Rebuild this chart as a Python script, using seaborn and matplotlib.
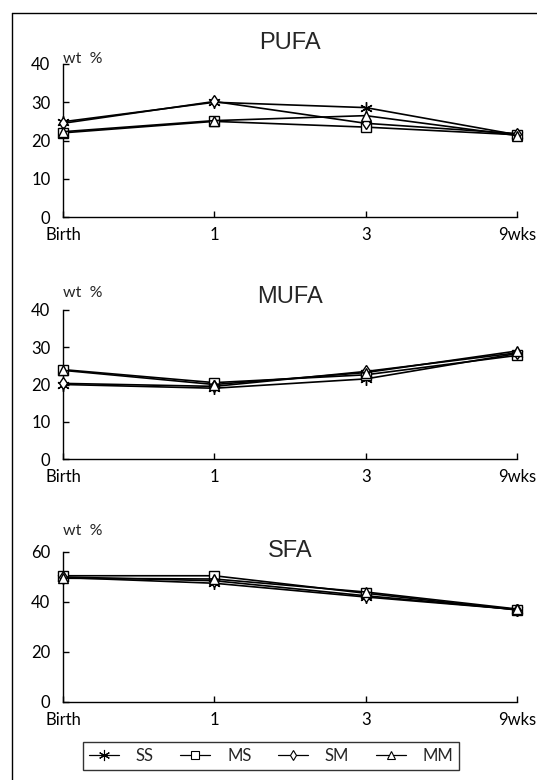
import pandas as pd
import seaborn as sns
import matplotlib.pyplot as plt
from matplotlib.lines import Line2D

times = ['Birth', '1', '3', '9wks']
groups = ['SS', 'MS', 'SM', 'MM']

pufa_ss = [24.9, 30.0, 28.6, 21.5]
pufa_ms = [22.0, 25.0, 23.5, 21.5]
pufa_sm = [24.5, 30.2, 24.5, 21.8]
pufa_mm = [22.3, 25.2, 26.5, 21.3]

mufa_ss = [20.0, 19.0, 21.5, 28.3]
mufa_ms = [24.0, 20.5, 22.6, 27.8]
mufa_sm = [20.3, 19.5, 23.5, 28.5]
mufa_mm = [23.8, 20.0, 23.2, 29.0]

sfa_ss = [49.8, 47.5, 42.0, 37.0]
sfa_ms = [50.5, 50.5, 43.5, 36.8]
sfa_sm = [50.0, 48.5, 42.5, 37.0]
sfa_mm = [49.5, 49.2, 44.0, 37.2]

panels = [
    ('PUFA', [pufa_ss, pufa_ms, pufa_sm, pufa_mm], 40, [0, 10, 20, 30, 40]),
    ('MUFA', [mufa_ss, mufa_ms, mufa_sm, mufa_mm], 40, [0, 10, 20, 30, 40]),
    ('SFA', [sfa_ss, sfa_ms, sfa_sm, sfa_mm], 60, [0, 20, 40, 60]),
]

sns.set_style('white')
plt.rcParams['font.family'] = ['Lato', 'DejaVu Sans']

fig = plt.figure(figsize=(5.37, 7.80), dpi=100)

# axes boxes in pixels: (bottom y, top y)
boxes = [(217, 64), (459, 310), (702, 552)]
title_y = [43, 297, 551]
wt_y = [59, 293, 531]
x0, x1 = 63, 517
W, H = 537, 780

markers = {'SS': (6, 2, 0), 'MS': 's', 'SM': 'd', 'MM': '^'}
sizes = {'SS': 9, 'MS': 7, 'SM': 6, 'MM': 7}

for (name, series, ymax, yticks), (yb, yt), ty, wy in zip(panels, boxes, title_y, wt_y):
    ax = fig.add_axes([x0 / W, 1 - yb / H, (x1 - x0) / W, (yb - yt) / H])
    rows = []
    for g, vals in zip(groups, series):
        for t, v in zip(times, vals):
            rows.append({'time': t, 'value': v, 'group': g})
    df = pd.DataFrame(rows)
    for g in groups:
        sns.lineplot(data=df[df.group == g], x='time', y='value', ax=ax,
                     color='black', linewidth=1.2, marker=markers[g],
                     markersize=sizes[g], markerfacecolor='white',
                     markeredgecolor='black', markeredgewidth=1.0,
                     label=g, clip_on=False, zorder=3)
    ax.set_xlim(0, 3)
    ax.set_ylim(0, ymax)
    ax.set_yticks(yticks)
    ax.set_xlabel('')
    ax.set_ylabel('')
    sns.despine(ax=ax)
    for side in ['left', 'bottom']:
        ax.spines[side].set_color('black')
        ax.spines[side].set_linewidth(1.0)
    ax.tick_params(axis='both', direction='in', length=4, width=1.0,
                   colors='black', labelsize=12)
    ax.tick_params(axis='y', pad=9, left=True)
    ax.tick_params(axis='x', pad=7, bottom=True)
    ax.get_legend().remove()
    fig.text(0.54, 1 - ty / H, name, ha='center', va='center', fontsize=17,
             family='Liberation Sans')
    fig.text(x0 / W, 1 - wy / H, 'wt  %', ha='left', va='center', fontsize=11.5)

handles = [Line2D([], [], color='black', linewidth=0.9, marker=markers[g],
                  markersize=sizes[g] - 1, markerfacecolor='white',
                  markeredgecolor='black', markeredgewidth=0.8) for g in groups]
leg = fig.legend(handles, groups, loc='center', bbox_to_anchor=(0.505, 0.031),
                 ncol=4, frameon=True, fancybox=False, edgecolor='black',
                 fontsize=12, handlelength=1.8, handletextpad=1.0,
                 columnspacing=1.6, borderpad=0.35)
leg.get_frame().set_linewidth(1.0)

# outer frame (left and top edges)
fig.add_artist(Line2D([12 / W, 12 / W], [0, 1 - 13 / H], color='black', linewidth=1.0))
fig.add_artist(Line2D([12 / W, 1], [1 - 13 / H, 1 - 13 / H], color='black', linewidth=1.0))

fig.savefig('out.png', dpi=100)
